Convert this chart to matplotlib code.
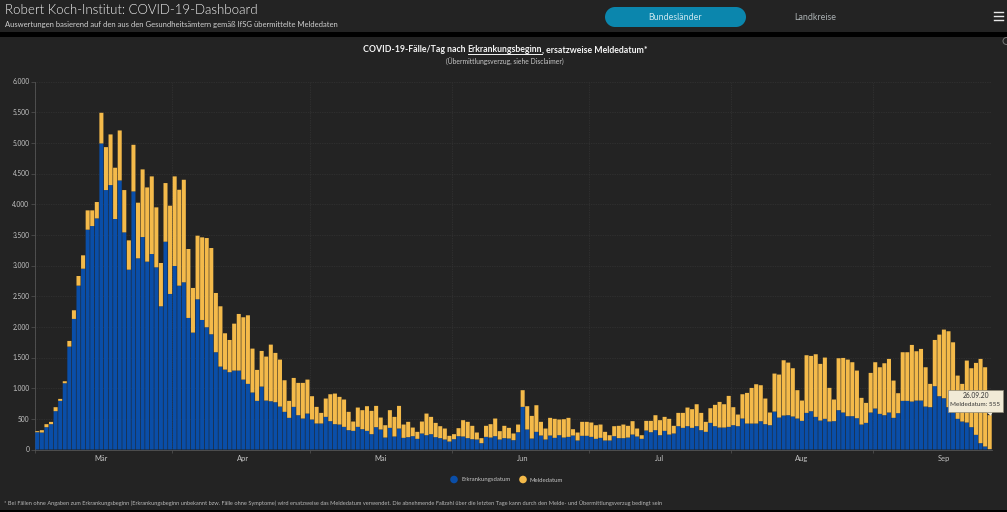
"""RKI dashboard: COVID-19 cases per day by onset of illness, reporting date as fallback."""

import matplotlib
matplotlib.use("Agg")
import matplotlib.pyplot as plt
from matplotlib.patches import Rectangle, Polygon, Circle
from matplotlib.lines import Line2D
from matplotlib.ticker import FuncFormatter

# ----------------------------------------------------------------------------
# Data. One value per day from 2 March to 26 September.
# ----------------------------------------------------------------------------

erkrankung = [
    282, 277, 364, 413, 625, 793, 1080, 1678, 2129, 2672,
    2948, 3584, 3643, 3768, 4990, 4230, 4311, 3758, 4387, 3540,
    2932, 4208, 3117, 3464, 3063, 3187, 2970, 2335, 3388, 2536,
    2992, 2671, 2726, 2145, 1906, 2449, 2112, 1993, 1879, 1586,
    1352, 1303, 1260, 1287, 1287, 1140, 1070, 929, 793, 1026,
    798, 787, 771, 700, 614, 516, 695, 559, 505, 586,
    489, 424, 424, 532, 462, 413, 407, 369, 315, 304,
    369, 331, 304, 250, 364, 326, 195, 353, 212, 342,
    190, 201, 217, 174, 261, 233, 250, 201, 185, 163,
    130, 168, 217, 212, 185, 168, 163, 103, 206, 195,
    217, 163, 185, 179, 152, 282, 695, 326, 179, 288,
    228, 163, 228, 190, 233, 195, 206, 228, 147, 223,
    223, 206, 174, 190, 147, 147, 217, 185, 185, 195,
    244, 212, 174, 310, 282, 315, 233, 304, 244, 261,
    380, 353, 380, 353, 380, 315, 288, 434, 380, 358,
    358, 369, 396, 380, 505, 423, 423, 423, 461, 413,
    396, 619, 521, 554, 559, 538, 505, 467, 597, 624,
    532, 472, 500, 456, 462, 641, 603, 543, 543, 510,
    407, 434, 603, 668, 581, 559, 603, 516, 592, 793,
    793, 782, 798, 798, 700, 690, 1032, 869, 836, 690,
    608, 500, 456, 440, 364, 239, 103, 49, 5,
]
gesamt = [
    299, 315, 413, 450, 690, 825, 1113, 1770, 2270, 2829,
    3166, 3899, 3899, 4035, 5490, 4930, 5137, 4594, 5202, 4230,
    3410, 4968, 4024, 4567, 4273, 4453, 3948, 3041, 4344, 3975,
    4453, 4235, 4398, 3269, 2634, 3486, 3459, 3448, 3285, 2552,
    2335, 1895, 1786, 2052, 2210, 2156, 2188, 1645, 1298, 1607,
    1515, 1710, 1575, 1466, 1129, 793, 1167, 1086, 1086, 1140,
    869, 695, 597, 831, 901, 912, 858, 815, 614, 456,
    684, 641, 706, 630, 711, 521, 396, 641, 532, 711,
    407, 451, 358, 288, 456, 586, 532, 434, 380, 342,
    223, 250, 348, 478, 451, 386, 277, 185, 386, 413,
    505, 299, 386, 353, 261, 407, 967, 706, 548, 722,
    451, 342, 516, 500, 489, 494, 516, 331, 277, 451,
    451, 440, 396, 407, 288, 233, 380, 386, 407, 386,
    462, 342, 233, 467, 467, 559, 478, 532, 500, 386,
    597, 597, 684, 657, 738, 597, 451, 673, 728, 776,
    738, 874, 690, 570, 901, 923, 1004, 1064, 1048, 831,
    603, 1238, 1222, 1455, 1417, 1325, 967, 798, 1537, 1526,
    1553, 1396, 1499, 1005, 815, 1488, 1493, 1466, 1423, 1287,
    842, 760, 1249, 1423, 1341, 1406, 1477, 1124, 918, 1586,
    1586, 1705, 1602, 1640, 1341, 1070, 1786, 1873, 1955, 1928,
    1748, 1205, 1070, 1450, 1325, 1412, 1477, 1341, 560,
]

# Month gridlines sit on the first day of each month, the labels about mid-month
month_names = ["Mär", "Apr", "Mai", "Jun", "Jul", "Aug", "Sep"]
month_starts = [0, 30, 60, 91, 121, 152, 183]
month_label_days = [13.9, 44.9, 74.9, 106.1, 136, 167, 198]
y_ticks = [0, 500, 1000, 1500, 2000, 2500, 3000, 3500, 4000, 4500, 5000, 5500, 6000]

# ----------------------------------------------------------------------------
# Style
# ----------------------------------------------------------------------------

W, H = 1007, 512
BG = "#232323"
BLUE = "#0a4ea8"
YELLOW = "#f4ba4a"
PILL = "#0b86ad"
LABEL = "#c4c4c4"
plt.rcParams["font.family"] = ["Lato", "DejaVu Sans"]


def fx(px):
    return px / W


def fy(py):
    return 1 - py / H


fig = plt.figure(figsize=(W / 100, H / 100), dpi=100, facecolor=BG)

# Header strip and black separators
fig.add_artist(Rectangle((0, fy(37)), 1, 5 / H, transform=fig.transFigure, color="#000000", lw=0))
fig.add_artist(Rectangle((0, 0), 1, 2 / H, transform=fig.transFigure, color="#000000", lw=0))

fig.text(fx(5), fy(10), "Robert Koch-Institut: COVID-19-Dashboard", color="#f4f4f4",
         fontsize=9.5, fontweight=300, va="center", ha="left")
fig.text(fx(5), fy(24.5), "Auswertungen basierend auf den aus den Gesundheitsämtern gemäß IfSG übermittelte Meldedaten",
         color="#d0d0d0", fontsize=5.47, va="center", ha="left")

# Pill button: a bar with a half circle at both ends
fig.add_artist(Rectangle((fx(615), fy(27)), 121 / W, 20 / H, transform=fig.transFigure, color=PILL, lw=0))
for cx in (615, 736):
    fig.add_artist(Circle((cx, H - 17), 10, transform=None, color=PILL, lw=0))
fig.text(fx(675), fy(17), "Bundesländer", color="#c9e6ef", fontsize=6.4, ha="center", va="center")
fig.text(fx(815.5), fy(17), "Landkreise", color="#aab0b2", fontsize=6.4, ha="center", va="center")
for py in (12, 16, 20):
    fig.add_artist(Line2D([fx(994), fx(1003)], [fy(py), fy(py)], transform=fig.transFigure,
                          color="#e8e8e8", lw=1.0))
fig.add_artist(Circle((1006.5, H - 41), 3.5, transform=None, facecolor="none", edgecolor="#777777", lw=0.7))

# ----------------------------------------------------------------------------
# Chart
# ----------------------------------------------------------------------------

ax = fig.add_axes([fx(35), fy(449.5), (992 - 35) / W, (449.5 - 81.5) / H], facecolor=BG)
days = list(range(len(erkrankung)))
melde = [g - e for g, e in zip(gesamt, erkrankung)]
bars_e = ax.bar(days, erkrankung, width=0.88, color=BLUE, linewidth=0, zorder=3)
bars_m = ax.bar(days, melde, bottom=erkrankung, width=0.88, color=YELLOW, linewidth=0, zorder=3)
# without pixel snapping the gaps between bars stay even
for bar in list(bars_e) + list(bars_m):
    bar.set_snap(False)

ax.set_xlim(-0.5, len(days) - 0.5)
ax.set_ylim(0, 6000)
for side in ("top", "right"):
    ax.spines[side].set_visible(False)
for side in ("left", "bottom"):
    ax.spines[side].set_color("#555555")
    ax.spines[side].set_linewidth(0.6)

ax.set_yticks(y_ticks)
ax.yaxis.set_major_formatter(FuncFormatter(lambda v, _: f"{int(v):,}".replace(",", ".")))
ax.tick_params(axis="y", labelsize=4.8, colors=LABEL, length=3, width=0.5, color="#555555", pad=1)

ax.set_xticks([s - 0.5 for s in month_starts])
ax.set_xticklabels([])
ax.tick_params(axis="x", length=2, width=0.5, color="#555555")
ax.set_xticks(month_label_days, minor=True)
ax.set_xticklabels(month_names, minor=True)
ax.tick_params(axis="x", which="minor", length=0, labelsize=5.4, labelcolor=LABEL, pad=4)

ax.grid(True, which="major", color="#3a3a3a", linewidth=0.5, linestyle=(0, (1, 1.5)), zorder=0)
ax.set_axisbelow(True)

# Title: three pieces so the middle one can be underlined
title_parts = ["COVID-19-Fälle/Tag nach ", "Erkrankungsbeginn", ", ersatzweise Meldedatum*"]
renderer = fig.canvas.get_renderer()
title_style = dict(color="#f4f4f4", fontsize=6.3, fontweight="bold", va="center", ha="left")


def text_width(s):
    # measured with a trailing bar so that spaces at the end are counted
    t = fig.text(0, 0, s + "|", **title_style)
    w = t.get_window_extent(renderer).width
    t.remove()
    t = fig.text(0, 0, "|", **title_style)
    w -= t.get_window_extent(renderer).width
    t.remove()
    return w


x = 505.5 - text_width("".join(title_parts)) / 2
for i, part in enumerate(title_parts):
    fig.text(fx(x), fy(50), part, **title_style)
    width = text_width(part)
    if i == 1:
        fig.add_artist(Line2D([fx(x), fx(x + width)], [fy(54), fy(54)], transform=fig.transFigure,
                              color="#f4f4f4", lw=0.7))
    x += width
fig.text(fx(505), fy(62), "(Übermittlungsverzug, siehe Disclaimer)", color="#c8c8c8", fontsize=4.9,
         ha="center", va="center")

# Tooltip on the last day
fig.add_artist(Polygon([(fx(985), fy(411)), (fx(993), fy(411)), (fx(991), fy(416))], closed=True,
                       transform=fig.transFigure, facecolor="#f1ead6", edgecolor="none", zorder=10))
fig.add_artist(Rectangle((fx(948), fy(412)), 55 / W, 22 / H, transform=fig.transFigure, facecolor="#f1ead6",
                         edgecolor="#8f8a78", linewidth=0.5, zorder=10))
fig.text(fx(975.5), fy(396), "26.09.20", color="#333333", fontsize=4.8, ha="center", va="center", zorder=11)
fig.text(fx(975.5), fy(405), "Meldedatum: 555", color="#333333", fontsize=4.6, ha="center", va="center", zorder=11)

# Legend
for cx, col, label in ((454, BLUE, "Erkrankungsdatum"), (523, YELLOW, "Meldedatum")):
    fig.add_artist(Circle((cx, H - 479.5), 3.8, transform=None, color=col, lw=0))
    fig.text(fx(cx + 7), fy(480), label, color=LABEL, fontsize=4.3, ha="left", va="center")

fig.text(fx(4), fy(503),
         "* Bei Fällen ohne Angaben zum Erkrankungsbeginn (Erkrankungsbeginn unbekannt bzw. Fälle ohne Symptome) wird "
         "ersatzweise das Meldedatum verwendet. Die abnehmende Fallzahl über die letzten Tage kann durch den Melde- "
         "und Übermittlungsverzug bedingt sein",
         color="#b8b8b8", fontsize=4.08, ha="left", va="center")

fig.savefig("out.png", dpi=100, facecolor=BG)
